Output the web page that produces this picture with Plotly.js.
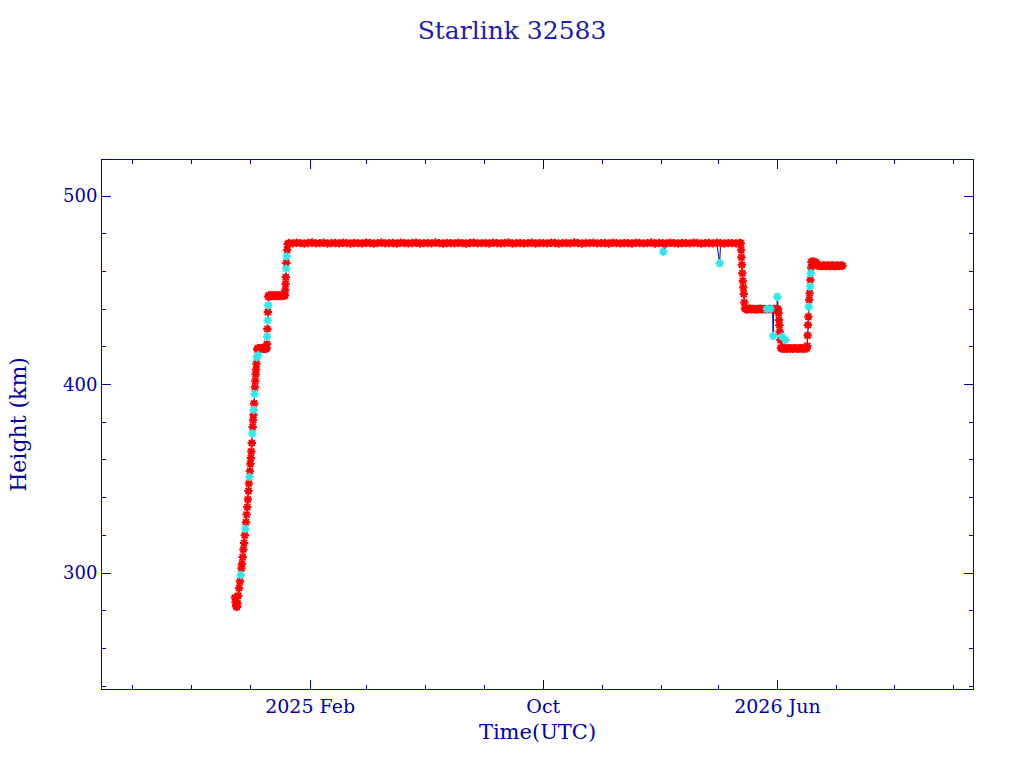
<!DOCTYPE html>
<html>
<head>
<meta charset="utf-8">
<script src="https://cdn.plot.ly/plotly-3.0.1.min.js"></script>
<style>
  html, body { margin: 0; padding: 0; background: #ffffff; }
  #plot { width: 1024px; height: 768px; }
</style>
</head>
<body>
<div id="plot"></div>
<script>
// day offsets are counted from this date (UTC)
const DAY0 = Date.UTC(2024, 5, 30);

// red points: main height samples
const redDay = [
  138.0,138.6,139.3,140.0,140.6,141.4,142.3,143.2,144.7,145.3,
  146.0,146.8,147.5,148.2,149.4,150.1,150.8,151.4,152.0,152.5,
  153.5,154.0,154.5,155.0,155.5,156.4,156.8,157.2,157.9,158.7,
  159.1,159.5,159.9,160.3,161.2,
  161.6,162.4,163.2,164.0,164.8,165.6,166.4,167.2,168.0,168.8,169.6,170.4,170.9,
  171.2,171.6,172.1,172.7,
  173.2,174.2,175.2,176.2,177.2,178.2,179.2,180.2,181.2,182.2,183.2,184.2,185.2,186.2,187.2,188.2,189.2,189.9,
  190.2,190.5,190.8,191.3,192.2,192.8,
  194,198,202,206,210,214,218,222,226,230,
  234,238,242,246,250,254,258,262,266,270,
  274,278,282,286,290,294,298,302,306,310,
  314,318,322,326,330,334,338,342,346,350,
  354,358,362,366,370,374,378,382,386,390,
  394,398,402,406,410,414,418,422,426,430,
  434,438,442,446,450,454,458,462,466,470,
  474,478,482,486,490,494,498,502,506,510,
  514,518,522,526,530,534,538,542,546,550,
  554,558,562,566,570,574,578,582,586,590,
  594,598,602,606,610,614,618,622,626,630,
  634,638,642,646,650,654,658,662,
  663.0,663.4,663.7,664.1,664.6,665.1,665.6,666.1,666.7,667.3,
  668,669.5,671,672.5,674,675.5,677,678.5,680,681.5,683,684.5,686,687.5,689,691,693,695,696.0,
  697.2,698.4,699.6,700.5,701.6,
  702.2,702.6,703.0,703.4,704.2,704.7,
  705.3,706.5,707.5,708.5,709.6,711,712.5,714,715.5,717,718.5,720,721.5,723,724.5,726,727.5,729,730.5,731.5,
  731.9,732.3,732.7,733.1,734.0,734.4,735.2,736.0,736.4,
  737,738,739,740,741,742,743.5,745,746.5,748,749.5,751,752.5,754,755.5,757,758.5,760,761.5,763,764.5,766,767.5,768.5
];
const redHeight = [
  287.0,284.5,282.5,282.0,284.0,288.0,292.0,295.5,302.5,305.0,
  308.5,312.5,316.0,320.0,327.0,331.0,335.0,339.0,343.5,347.5,
  354.0,358.0,361.0,364.5,369.0,377.5,381.0,384.0,390.0,398.5,
  402.0,405.5,408.0,411.0,418.5,
  419.2,419.0,419.3,419.1,419.2,419.0,419.3,419.1,419.2,419.0,419.2,419.1,419.3,
  421.5,429.5,438.5,446.5,
  447.2,447.0,447.3,447.1,447.2,447.0,447.3,447.1,447.2,447.0,447.3,447.1,447.2,447.0,447.3,447.1,447.2,447.4,
  450.0,453.5,457.0,464.5,471.5,474.5,
  475.1,474.9,475.2,475.0,474.8,475.1,475.3,474.9,475.0,475.2,
  474.8,475.0,475.1,474.9,475.2,475.0,474.8,475.1,475.0,474.9,
  475.2,475.1,474.8,475.0,475.3,474.9,475.0,475.1,474.8,475.2,
  475.0,474.9,475.1,475.2,474.8,475.0,475.1,474.9,475.3,475.0,
  474.8,475.1,475.0,474.9,475.2,475.0,474.8,475.1,475.2,474.9,
  475.0,475.1,474.8,475.2,475.0,474.9,475.1,475.3,474.8,475.0,
  475.1,474.9,475.0,475.2,474.8,475.1,475.0,474.9,475.2,475.1,
  474.8,475.0,475.1,474.9,475.3,475.0,474.8,475.1,475.0,475.2,
  474.9,475.0,475.1,474.8,475.2,475.0,474.9,475.1,475.0,474.8,
  475.2,475.1,474.9,475.0,475.3,474.8,475.1,475.0,474.9,475.2,
  475.0,474.8,475.1,475.0,474.9,475.2,475.1,474.8,475.0,475.1,
  474.9,475.2,475.0,474.8,475.1,475.0,474.9,475.1,
  475.0,471.5,467.5,463.5,459.0,455.0,451.5,448.0,443.5,440.5,
  440.1,439.8,440.0,440.2,439.9,440.1,440.0,439.8,440.1,440.0,440.2,439.9,440.0,440.1,439.9,440.0,440.1,439.9,440.0,
  440.1,439.9,440.0,440.1,440.0,
  437.8,434.2,431.6,428.0,423.6,419.5,
  419.2,419.0,419.3,419.1,419.2,419.0,419.3,419.1,419.2,419.0,419.3,419.1,419.2,419.0,419.3,419.1,419.2,419.0,419.3,419.2,
  420.5,426.0,431.6,436.0,445.0,448.4,455.5,462.0,465.0,
  465.2,465.0,465.1,464.8,464.6,463.4,463.0,463.1,462.9,463.0,463.1,462.9,463.0,463.1,462.9,463.0,463.1,462.9,463.0,463.1,462.9,463.0,463.1,463.0
];

// cyan points: second set of samples
const cyanDay = [
  144.0,148.8,153.0,156.0,157.5,158.3,160.7,162.0,171.4,171.9,
  172.4,191.0,191.7,582.6,641.1,690.0,693.8,696.6,701.0,705.9,
  709.3,733.5,734.8,735.6
];
const cyanHeight = [
  299.0,323.5,351.0,374.0,386.5,395.0,414.5,415.5,425.5,434.0,
  442.0,461.5,468.0,470.4,464.3,440.0,440.2,425.7,446.6,425.4,
  423.6,441.3,452.0,459.0
];

// axis labels
const xTickVals = ['2025-02-01', '2025-10-01', '2026-06-01'];
const xTickText = ['2025 Feb', 'Oct', '2026 Jun'];
const xRange = ['2024-06-30', '2026-12-21'];
const yRange = [238.5, 519.1];

function toDate(d) {
  return new Date(DAY0 + d * 86400000).toISOString();
}

// one line through every sample in time order
let all = [];
redDay.forEach(function(d, i) { all.push([d, redHeight[i]]); });
cyanDay.forEach(function(d, i) { all.push([d, cyanHeight[i]]); });
all.sort(function(a, b) { return a[0] - b[0]; });

const INK = '#0000a8';
const FONT = 'DejaVu Serif';

let traces = [
  { x: all.map(function(p) { return toDate(p[0]); }), y: all.map(function(p) { return p[1]; }),
    mode: 'lines', type: 'scatter', line: {color: '#0000b4', width: 1}, hoverinfo: 'skip' },
  { x: redDay.map(toDate), y: redHeight, mode: 'markers', type: 'scatter',
    marker: {symbol: 'asterisk-open', size: 7, color: '#ff0000', line: {color: '#ff0000', width: 2}} },
  { x: cyanDay.map(toDate), y: cyanHeight, mode: 'markers', type: 'scatter',
    marker: {symbol: 'asterisk-open', size: 7, color: '#30e8e8', line: {color: '#30e8e8', width: 2}} }
];

let layout = {
  width: 1024, height: 768,
  showlegend: false,
  paper_bgcolor: '#ffffff', plot_bgcolor: '#ffffff',
  margin: {l: 102, r: 51, t: 160, b: 79},
  font: {family: FONT, color: INK, size: 18},
  title: {text: 'Starlink 32583', x: 0.5, xanchor: 'center', y: 0.961, yref: 'container',
    yanchor: 'middle', font: {family: FONT, size: 25, color: '#1a1ab8'}},
  xaxis: {
    type: 'date', range: xRange, showgrid: false, zeroline: false,
    showline: true, linecolor: INK, linewidth: 1, mirror: 'ticks',
    ticks: 'inside', ticklen: 9, tickcolor: INK, tickwidth: 1,
    tickmode: 'array', tickvals: xTickVals, ticktext: xTickText,
    tickfont: {family: FONT, size: 19, color: INK},
    minor: {ticks: 'inside', ticklen: 4, tickcolor: INK, dtick: 'M2', tick0: '2024-08-01', showgrid: false},
    title: {text: 'Time(UTC)', font: {family: FONT, size: 21, color: INK}, standoff: 8}
  },
  yaxis: {
    range: yRange, showgrid: false, zeroline: false,
    showline: true, linecolor: INK, linewidth: 1, mirror: 'ticks',
    ticks: 'inside', ticklen: 9, tickcolor: INK, tickwidth: 1,
    dtick: 100, tick0: 0,
    tickfont: {family: FONT, size: 18, color: INK},
    minor: {ticks: 'inside', ticklen: 4, tickcolor: INK, dtick: 20, showgrid: false},
    title: {text: 'Height (km)', font: {family: FONT, size: 22, color: INK}, standoff: 30}
  }
};

Plotly.newPlot('plot', traces, layout, {staticPlot: true});
</script>
</body>
</html>
